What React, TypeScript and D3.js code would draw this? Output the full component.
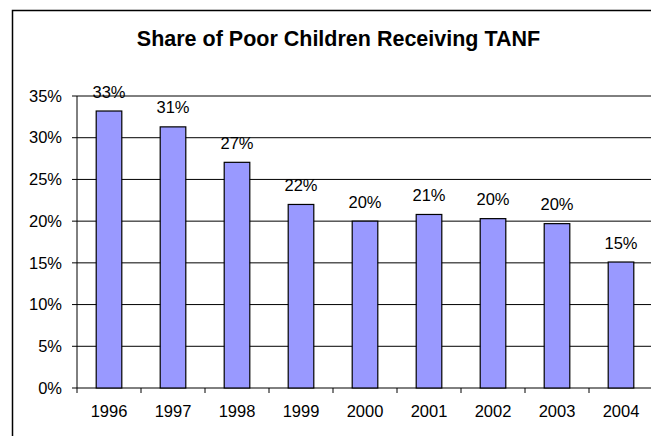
import React from 'react';
import * as d3 from 'd3';

const years = ['1996', '1997', '1998', '1999', '2000', '2001', '2002', '2003', '2004'];
const shares = [33.2, 31.3, 27.05, 22.0, 20.0, 20.8, 20.3, 19.7, 15.1];
const yTicks = [0, 5, 10, 15, 20, 25, 30, 35];

const W = 651;
const H = 436;
const margin = { top: 96, left: 77, bottom: 388, right: 653 };
const font = 'Arial, "Liberation Sans", Helvetica, sans-serif';

const App: React.FC = () => {
  const x = d3.scaleBand<string>()
    .domain(years)
    .range([margin.left, margin.right])
    .padding(0);

  const y = d3.scaleLinear()
    .domain([0, 35])
    .range([margin.bottom, margin.top]);

  const bw = x.bandwidth() / 2.5;

  return (
    <svg
      width={W}
      height={H}
      style={{ position: 'absolute', left: 0, top: 0, background: '#fff' }}
      fontFamily={font}
    >
      {/* outer chart frame, cut off at right/bottom */}
      <rect x={12.5} y={10.5} width={700} height={500} fill="#fff" stroke="#000" strokeWidth={1.5} />

      <text x={338.5} y={45.5} textAnchor="middle" fontSize={21.5} fontWeight="bold" fill="#000">
        Share of Poor Children Receiving TANF
      </text>

      {/* gridlines + y ticks */}
      {yTicks.map(t => (
        <g key={t}>
          <line x1={margin.left - 5} x2={margin.right} y1={y(t)} y2={y(t)} stroke="#000" strokeWidth={1} />
          <text x={62} y={y(t) + 5.7} textAnchor="end" fontSize={16.5} fill="#000">{t}%</text>
        </g>
      ))}

      {/* y axis */}
      <line x1={margin.left} x2={margin.left} y1={margin.top} y2={margin.bottom} stroke="#000" strokeWidth={1} />

      {/* x ticks at category boundaries */}
      {years.map(d => (
        <line key={d} x1={x(d)!} x2={x(d)!} y1={margin.bottom} y2={margin.bottom + 5} stroke="#000" strokeWidth={1} />
      ))}

      {/* bars */}
      {years.map((d, i) => {
        const bx = x(d)! + (x.bandwidth() - bw) / 2;
        return (
          <g key={d}>
            <rect
              x={bx}
              y={y(shares[i])}
              width={bw}
              height={y(0) - y(shares[i])}
              fill="#9999FF"
              stroke="#000"
              strokeWidth={1.2}
            />
            <text x={x(d)! + x.bandwidth() / 2} y={y(shares[i]) - 13.5} textAnchor="middle" fontSize={16.5} fill="#000">
              {Math.round(shares[i])}%
            </text>
            <text x={x(d)! + x.bandwidth() / 2} y={417} textAnchor="middle" fontSize={16.5} fill="#000">
              {d}
            </text>
          </g>
        );
      })}
    </svg>
  );
};

export default App;
